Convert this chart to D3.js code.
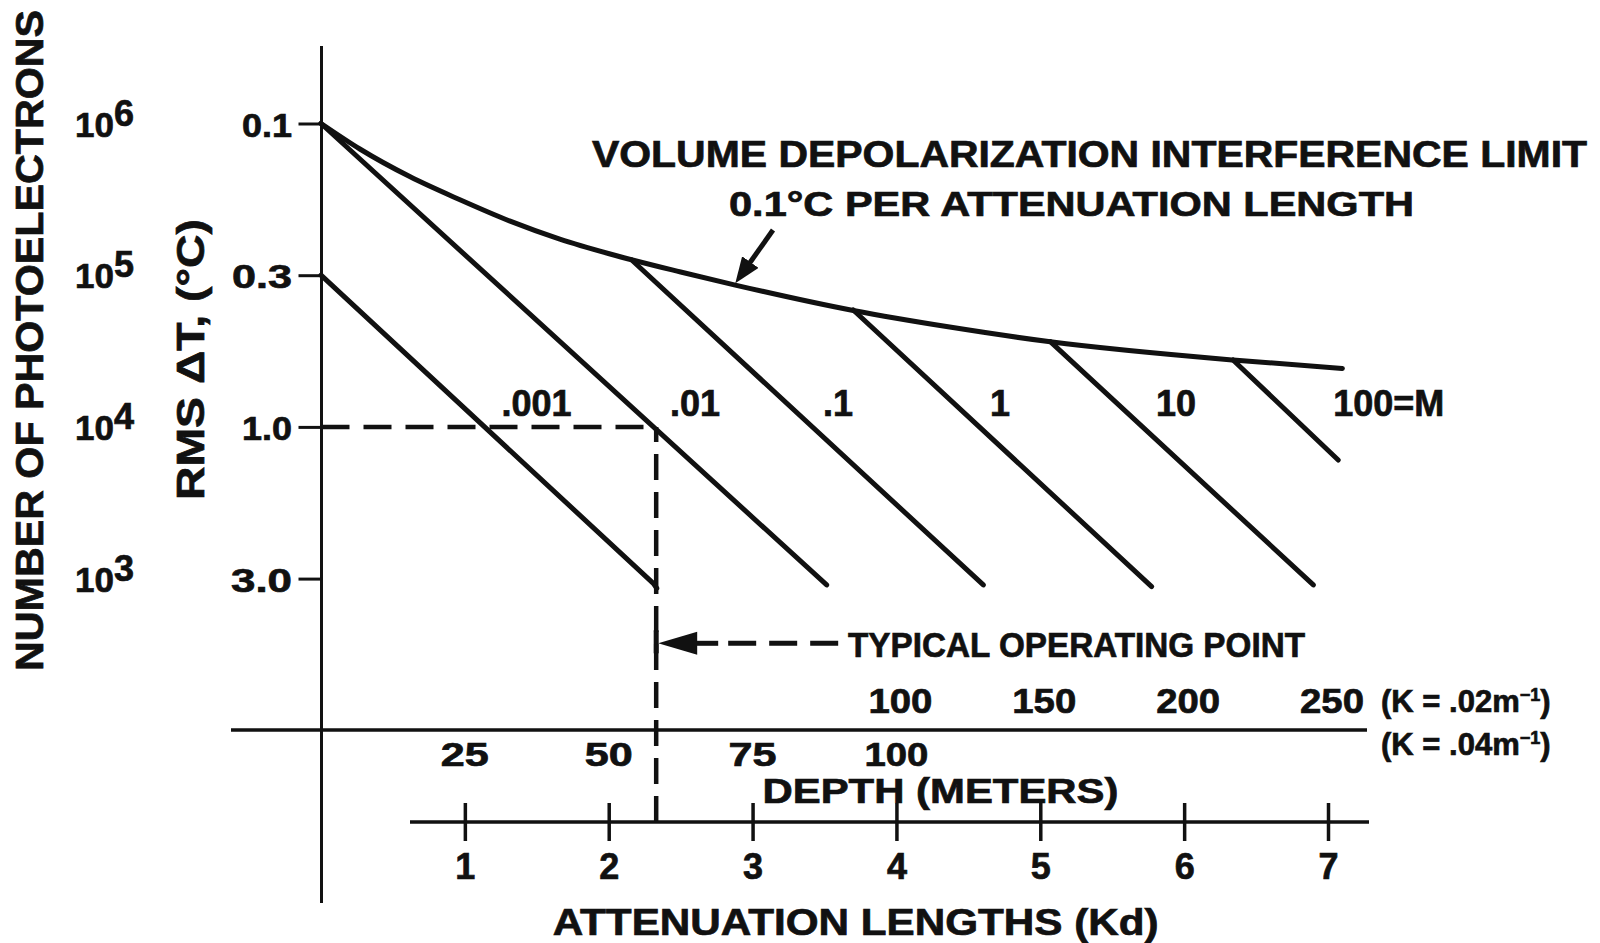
<!DOCTYPE html>
<html>
<head>
<meta charset="utf-8">
<script src="https://cdn.jsdelivr.net/npm/d3@7"></script>
<style>
body{margin:0;background:#fff}
svg text{font-family:"Liberation Sans",Arial,sans-serif;font-weight:bold;fill:#111;stroke:#111;stroke-width:0.7px}
</style>
</head>
<body>
<svg id="chart" width="1600" height="943" viewBox="0 0 1600 943"></svg>
<script>
// ---- data ----
const photoTicks = [1e6, 1e5, 1e4, 1e3]
const photoExp = ["6", "5", "4", "3"]
const deltaTLabels = ["0.1", "0.3", "1.0", "3.0"]
const kdTicks = [1, 2, 3, 4, 5, 6, 7]
const depthK04 = [25, 50, 75, 100]          // K = .04 /m  -> Kd = .04 d
const depthK02 = [100, 150, 200, 250]       // K = .02 /m row as printed
const depthK02Kd = [4, 5, 6, 7]

// volume depolarization limit (Kd, photoelectrons)
const limitKd = [0, 0.27, 0.62, 0.97, 1.31, 1.66, 2.01, 2.50, 2.88, 3.70, 4.37, 5.07, 6.34, 7.10]
const limitN = [1e6, 6.79e5, 4.45e5, 3.13e5, 2.28e5, 1.73e5, 1.38e5, 1.05e5, 8.61e4, 5.85e4, 4.55e4, 3.64e4, 2.76e4, 2.43e4]

// M lines (Kd, photoelectrons) per line
const mLabels = [".001", ".01", ".1", "1", "10", "100=M"]
const mLineKd = [[0, 2.31, 2.334], [0, 3.515], [2.16, 4.604], [3.70, 5.774], [5.07, 6.898], [6.34, 7.071]]
const mLineN = [[1e5, 930, 863], [1e6, 908], [1.26e5, 908], [5.9e4, 885], [3.65e4, 908], [2.76e4, 6050]]

const opKd = 2.33
const opN = 1e4

// ---- layout ----
const svg = d3.select("#chart")
const ink = "#111"

const x = d3.scaleLinear().domain([0, 7]).range([321, 1328])
const y = d3.scaleLog().domain([1e3, 1e6]).range([578.6, 123.5])

const axisX = 321.5
const depthY = 730
const kdAxisY = 822

svg.append("rect").attr("width", 1600).attr("height", 943).attr("fill", "#fff")

// arrow head marker
svg.append("defs").append("marker")
    .attr("id", "head")
    .attr("markerUnits", "userSpaceOnUse")
    .attr("viewBox", "0 0 26 20")
    .attr("refX", 2).attr("refY", 10)
    .attr("markerWidth", 26).attr("markerHeight", 20)
    .attr("orient", "auto")
    .append("path").attr("d", "M0,0 L26,10 L0,20 Z").attr("fill", ink)

// vertical axis line
svg.append("line")
    .attr("x1", axisX).attr("x2", axisX)
    .attr("y1", 46).attr("y2", 903)
    .attr("stroke", ink).attr("stroke-width", 3)

// left axis: ticks and delta T labels
const labelWidth = [50, 60, 50, 61]
const yAxis = svg.append("g")
    .attr("transform", `translate(${axisX},0)`)
    .call(d3.axisLeft(y).tickValues(photoTicks).tickSize(23).tickPadding(6.5)
        .tickFormat((d, i) => deltaTLabels[i]))
yAxis.select(".domain").remove()
yAxis.selectAll(".tick line").attr("stroke", ink).attr("stroke-width", 3)
yAxis.selectAll(".tick text")
    .attr("font-size", 33).attr("dy", "0.38em")
    .attr("font-family", "Liberation Sans").attr("fill", ink)
    .attr("textLength", (d, i) => labelWidth[i]).attr("lengthAdjust", "spacingAndGlyphs")

// photoelectron labels 10^n
const pe = svg.append("g").selectAll("text")
    .data(photoTicks)
    .enter()
    .append("text")
    .attr("x", 75)
    .attr("y", d => y(d) + 13)
    .attr("font-size", 35)
pe.append("tspan").text("10")
pe.append("tspan")
    .attr("dy", -11)
    .attr("font-size", 36)
    .text((d, i) => photoExp[i])

// axis titles (rotated)
svg.append("text")
    .attr("transform", "translate(43,340.5) rotate(-90)")
    .attr("text-anchor", "middle")
    .attr("font-size", 38)
    .attr("textLength", 661).attr("lengthAdjust", "spacingAndGlyphs")
    .text("NUMBER OF PHOTOELECTRONS")

svg.append("text")
    .attr("transform", "translate(204,359.5) rotate(-90)")
    .attr("text-anchor", "middle")
    .attr("font-size", 38)
    .attr("textLength", 281).attr("lengthAdjust", "spacingAndGlyphs")
    .text("RMS ΔT, (°C)")

// operating point dashed guides
svg.append("line")
    .attr("x1", axisX).attr("x2", x(opKd))
    .attr("y1", y(opN)).attr("y2", y(opN))
    .attr("stroke", ink).attr("stroke-width", 4.5)
    .attr("stroke-dasharray", "28,14")
svg.append("line")
    .attr("x1", x(opKd)).attr("x2", x(opKd))
    .attr("y1", kdAxisY).attr("y2", y(opN))
    .attr("stroke", ink).attr("stroke-width", 4.5)
    .attr("stroke-dasharray", "26,12")

// M lines
const mLine = d3.line().x(d => x(d[0])).y(d => y(d[1]))
svg.append("g").selectAll("path")
    .data(mLineKd.map((kds, i) => kds.map((k, j) => [k, mLineN[i][j]])))
    .enter()
    .append("path")
    .attr("d", mLine)
    .attr("fill", "none")
    .attr("stroke", ink).attr("stroke-width", 5)
    .attr("stroke-linecap", "round").attr("stroke-linejoin", "round")

// limit curve
const limitLine = d3.line().x(d => x(d[0])).y(d => y(d[1])).curve(d3.curveMonotoneX)
svg.append("path")
    .datum(limitKd.map((k, i) => [k, limitN[i]]))
    .attr("d", limitLine)
    .attr("fill", "none")
    .attr("stroke", ink).attr("stroke-width", 5)
    .attr("stroke-linecap", "round")

// M labels
const mLabelX = [536.6, 695, 838, 1000, 1176, 1388.7]
svg.append("g").selectAll("text")
    .data(mLabels)
    .enter()
    .append("text")
    .attr("x", (d, i) => mLabelX[i])
    .attr("y", 416)
    .attr("text-anchor", "middle")
    .attr("font-size", 36)
    .text(d => d)

// title annotation
svg.append("text")
    .attr("x", 592).attr("y", 167)
    .attr("font-size", 37)
    .attr("textLength", 995).attr("lengthAdjust", "spacingAndGlyphs")
    .text("VOLUME DEPOLARIZATION INTERFERENCE LIMIT")
svg.append("text")
    .attr("x", 729).attr("y", 216)
    .attr("font-size", 35)
    .attr("textLength", 685).attr("lengthAdjust", "spacingAndGlyphs")
    .text("0.1°C PER ATTENUATION LENGTH")

// pointer to the curve
{
    const sx = 773, sy = 230, tx = 735.3, ty = 283.3
    const len = Math.hypot(tx - sx, ty - sy)
    const ux = (tx - sx) / len, uy = (ty - sy) / len
    svg.append("line")
        .attr("x1", sx).attr("y1", sy)
        .attr("x2", tx - 24 * ux).attr("y2", ty - 24 * uy)
        .attr("stroke", ink).attr("stroke-width", 5)
        .attr("marker-end", "url(#head)")
}

// typical operating point arrow
{
    const ay = 643.3
    const tipX = x(opKd) + 2
    svg.append("line")
        .attr("x1", x(opKd)).attr("x2", x(opKd))
        .attr("y1", ay - 13).attr("y2", ay + 10)
        .attr("stroke", ink).attr("stroke-width", 5)
    svg.append("path")
        .attr("d", `M${tipX},${ay} L${tipX + 39},${ay - 11.5} L${tipX + 39},${ay + 11.5} Z`)
        .attr("fill", ink)
    svg.append("line")
        .attr("x1", tipX + 38).attr("x2", tipX + 60)
        .attr("y1", ay).attr("y2", ay)
        .attr("stroke", ink).attr("stroke-width", 5)
    svg.append("line")
        .attr("x1", tipX + 70).attr("x2", tipX + 180)
        .attr("y1", ay).attr("y2", ay)
        .attr("stroke", ink).attr("stroke-width", 5)
        .attr("stroke-dasharray", "28,13")
    svg.append("text")
        .attr("x", 848).attr("y", 657)
        .attr("font-size", 35)
        .attr("textLength", 457).attr("lengthAdjust", "spacingAndGlyphs")
        .text("TYPICAL OPERATING POINT")
}

// depth scale
svg.append("line")
    .attr("x1", 231).attr("x2", 1367)
    .attr("y1", depthY).attr("y2", depthY)
    .attr("stroke", ink).attr("stroke-width", 3.5)

svg.append("g").selectAll("text")
    .data(depthK02)
    .enter()
    .append("text")
    .attr("x", (d, i) => x(depthK02Kd[i]) + 4)
    .attr("y", 713)
    .attr("text-anchor", "middle")
    .attr("font-size", 35)
    .attr("textLength", 64).attr("lengthAdjust", "spacingAndGlyphs")
    .text(d => d)

svg.append("g").selectAll("text")
    .data(depthK04)
    .enter()
    .append("text")
    .attr("x", d => x(d * 0.04))
    .attr("y", 766)
    .attr("text-anchor", "middle")
    .attr("font-size", 34)
    .attr("textLength", d => d < 100 ? 48 : 64).attr("lengthAdjust", "spacingAndGlyphs")
    .text(d => d)

const kText = [["(K = .02m", 712], ["(K = .04m", 755]]
kText.forEach(([t, by]) => {
    const tx = svg.append("text").attr("x", 1381).attr("y", by).attr("font-size", 31)
    tx.append("tspan").text(t)
    tx.append("tspan").attr("dy", -11).attr("font-size", 18).text("−1")
    tx.append("tspan").attr("dy", 11).text(")")
})

svg.append("text")
    .attr("x", 762.5).attr("y", 803)
    .attr("font-size", 35)
    .attr("textLength", 356).attr("lengthAdjust", "spacingAndGlyphs")
    .text("DEPTH (METERS)")

// attenuation length axis
svg.append("line")
    .attr("x1", 410).attr("x2", 1369)
    .attr("y1", kdAxisY).attr("y2", kdAxisY)
    .attr("stroke", ink).attr("stroke-width", 3.5)

const kdAxis = svg.append("g")
    .attr("transform", `translate(0,${kdAxisY})`)
    .call(d3.axisBottom(x).tickValues(kdTicks).tickSize(19).tickPadding(12)
        .tickFormat(d3.format("d")))
kdAxis.select(".domain").remove()
kdAxis.selectAll(".tick line")
    .attr("y1", -19).attr("stroke", ink).attr("stroke-width", 3.5)
kdAxis.selectAll(".tick text")
    .attr("font-size", 36)
    .attr("font-family", "Liberation Sans").attr("fill", ink)

svg.append("text")
    .attr("x", 552.7).attr("y", 935)
    .attr("font-size", 37)
    .attr("textLength", 606).attr("lengthAdjust", "spacingAndGlyphs")
    .text("ATTENUATION LENGTHS (Kd)")
</script>
</body>
</html>
